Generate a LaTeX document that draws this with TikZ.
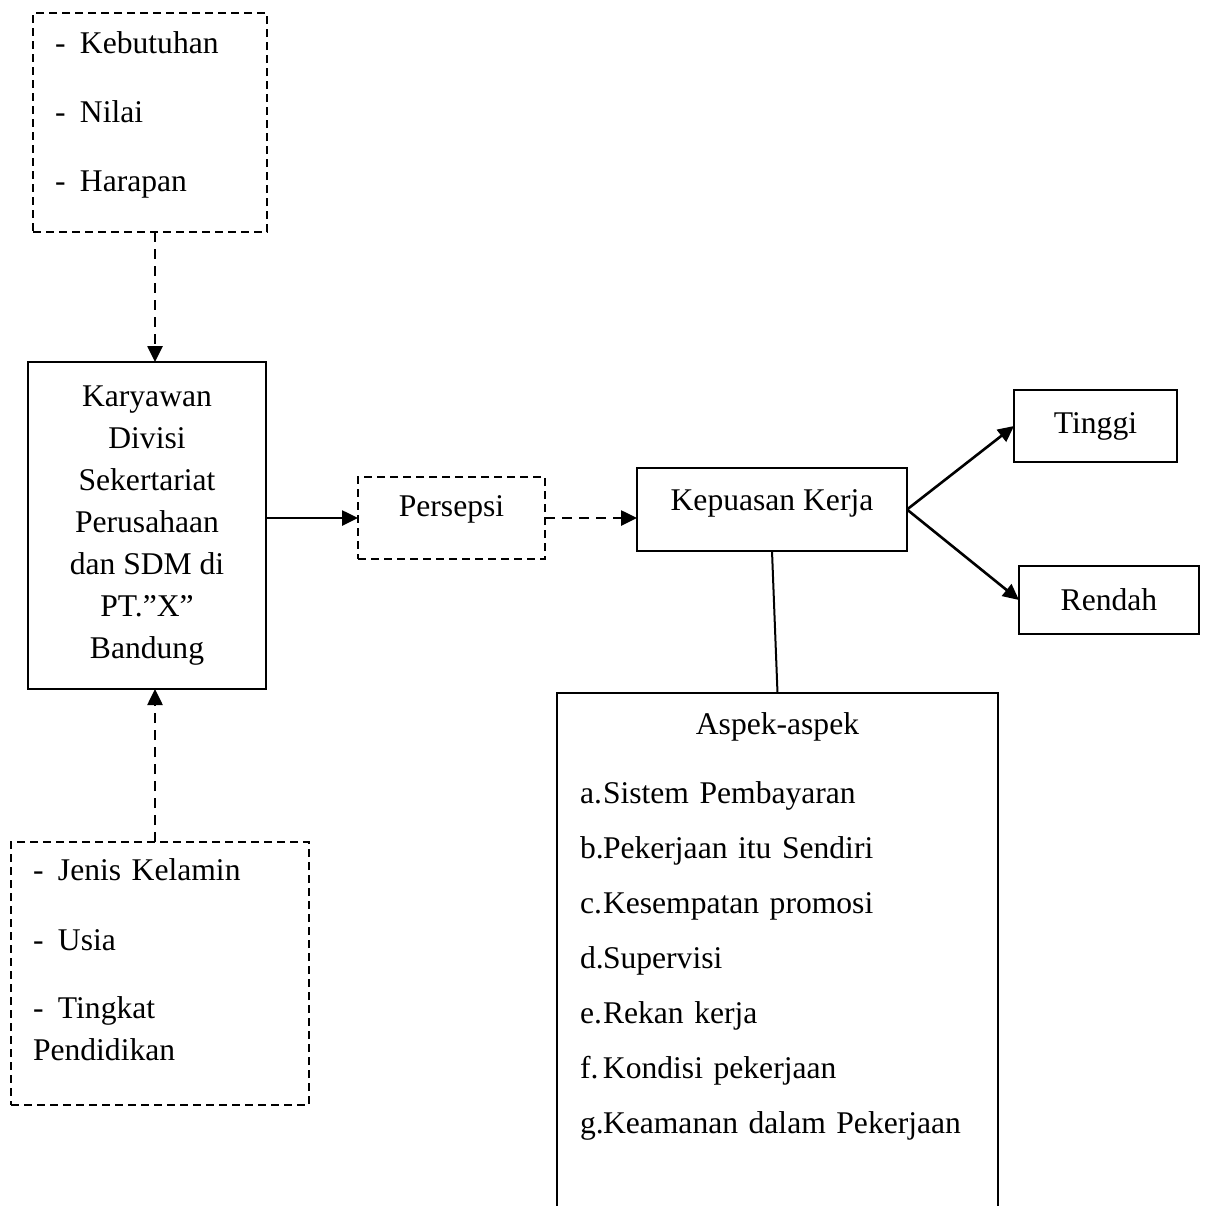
\documentclass[tikz,border=0pt]{standalone}
\usepackage{fontspec}
\setmainfont{Liberation Serif}
\usetikzlibrary{arrows.meta}
\newcommand{\itm}[1]{\makebox[12.5pt][l]{-}#1}
\newcommand{\lbl}[2]{\makebox[11.5pt][l]{#1}#2}
\newcommand{\taildepth}[1]{\rule[-#1]{0pt}{#1}}
\begin{document}
\begin{tikzpicture}[x=0.5pt,y=-0.5pt,outer sep=0pt,
font=\fontsize{15.8}{21}\selectfont,
solidbox/.style={draw,rectangle,line width=1pt,inner sep=0pt,align=center},
dashbox/.style={draw,rectangle,line width=1pt,dash pattern=on 4pt off 2.5pt,inner xsep=11pt,inner ysep=0pt,align=left},
link/.style={line width=1.3pt,-{Triangle[length=8pt,width=7.5pt]}},
dashlink/.style={link,dash pattern=on 5pt off 3.5pt}]

\path[use as bounding box,clip] (0,0) rectangle (1210,1205);

\draw (150,122.5) node[dashbox,minimum width=117pt,minimum height=109.5pt,text width=95pt] (needs) {\itm{Kebutuhan}\\[13.5pt]\itm{Nilai}\\[13.5pt]\itm{Harapan}\taildepth{11pt}};
\draw (147,525.5) node[solidbox,minimum width=119pt,minimum height=163.5pt] (karyawan) {Karyawan\\Divisi\\Sekertariat\\Perusahaan\\dan SDM di\\PT.”X”\\Bandung};
\draw (160,973.5) node[dashbox,minimum width=149pt,minimum height=131.5pt,text width=127pt] (factors) {\itm{Jenis Kelamin}\\[14pt]\itm{Usia}\\[13pt]\itm{Tingkat}\\Pendidikan\taildepth{13.5pt}};

\draw (451.5,518) node[dashbox,align=center,minimum width=93.5pt,minimum height=41pt] (persepsi) {Persepsi\taildepth{12pt}};
\draw (772,509.5) node[solidbox,minimum width=135pt,minimum height=41.5pt] (kepuasan) {Kepuasan Kerja\taildepth{9pt}};
\draw (1095.5,426) node[solidbox,minimum width=81.5pt,minimum height=36pt] (tinggi) {Tinggi};
\draw (1109,600) node[solidbox,minimum width=90pt,minimum height=34pt] (rendah) {Rendah};

\draw (777.5,693) node[solidbox,anchor=north,text width=197.5pt,inner xsep=11.5pt,inner ysep=10pt,align=left] (aspek) {\makebox[197.5pt]{Aspek-aspek}\\[13.5pt]
\lbl{a.}{Sistem Pembayaran}\\[6.5pt]
\lbl{b.}{Pekerjaan itu Sendiri}\\[6.5pt]
\lbl{c.}{Kesempatan promosi}\\[6.5pt]
\lbl{d.}{Supervisi}\\[6.5pt]
\lbl{e.}{Rekan kerja}\\[6.5pt]
\lbl{f.}{Kondisi pekerjaan}\\[6.5pt]
\lbl{g.}{Keamanan dalam Pekerjaan}\\[40pt]~};

% connectors
\draw[dashlink] ([xshift=2.5pt]needs.south) -- ([xshift=2.5pt]needs.south |- karyawan.north);
\draw[dashlink] ([xshift=-2.5pt]factors.north) -- ([xshift=-2.5pt]factors.north |- karyawan.south);
\draw[link] (karyawan.east |- persepsi) -- (persepsi.west);
\draw[dashlink] (persepsi.east) -- (persepsi.east -| kepuasan.west);
\draw[link] (kepuasan.east) -- (tinggi.west);
\draw[link] (kepuasan.east) -- (rendah.west);
\draw[line width=1pt] (kepuasan.south) -- (aspek.north);
\end{tikzpicture}
\end{document}
